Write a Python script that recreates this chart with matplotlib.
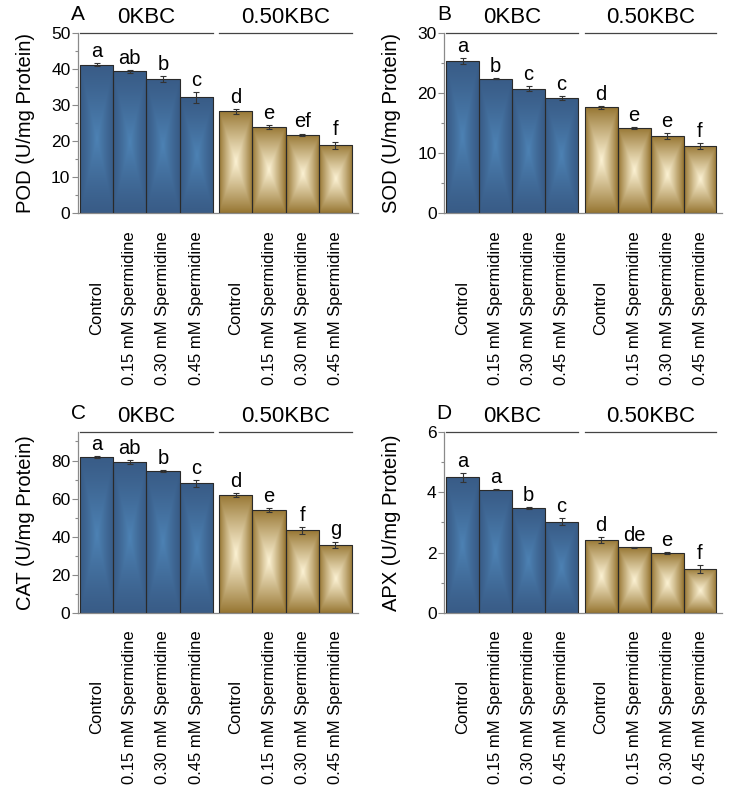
import numpy as np
import matplotlib
matplotlib.use("Agg")
import matplotlib.pyplot as plt
from matplotlib.ticker import MultipleLocator
from matplotlib.colors import to_rgb
import matplotlib.transforms as mtransforms

plt.rcParams['font.family'] = ['Liberation Sans', 'DejaVu Sans']

# ── data ──────────────────────────────────────────────────────────────────────
treatments = ["Control", "0.15 mM Spermidine", "0.30 mM Spermidine", "0.45 mM Spermidine"]
groups = ["0KBC", "0.50KBC"]

pod_mean = [41.2, 39.3, 37.2, 32.1, 28.3, 23.9, 21.7, 18.9]
pod_err  = [0.5, 0.3, 0.8, 1.4, 0.7, 0.6, 0.4, 1.0]
pod_let  = ["a", "ab", "b", "c", "d", "e", "ef", "f"]

sod_mean = [25.3, 22.4, 20.7, 19.2, 17.6, 14.2, 12.8, 11.2]
sod_err  = [0.5, 0.1, 0.4, 0.3, 0.3, 0.1, 0.5, 0.5]
sod_let  = ["a", "b", "c", "c", "d", "e", "e", "f"]

cat_mean = [81.9, 79.1, 74.6, 68.1, 62.0, 54.1, 43.3, 35.7]
cat_err  = [0.5, 1.0, 0.5, 1.8, 1.0, 1.2, 2.0, 1.8]
cat_let  = ["a", "ab", "b", "c", "d", "e", "f", "g"]

apx_mean = [4.50, 4.09, 3.48, 3.03, 2.42, 2.18, 1.98, 1.46]
apx_err  = [0.15, 0.02, 0.03, 0.12, 0.10, 0.01, 0.04, 0.14]
apx_let  = ["a", "a", "b", "c", "d", "de", "e", "f"]

# ── style ─────────────────────────────────────────────────────────────────────
BLUE_EDGE, BLUE_MID = "#395c87", "#4d82b4"
TAN_EDGE,  TAN_MID  = "#957430", "#fcf2d4"
SPINE = "#8a8a8a"
GAP = 0.2
xpos = [0, 1, 2, 3, 3 + 1 + GAP, 4 + 1 + GAP, 5 + 1 + GAP, 6 + 1 + GAP]


def fill_gradient(ax, patch, edge, mid, power):
    x0, y0 = patch.get_x(), patch.get_y()
    w, h = patch.get_width(), patch.get_height()
    u = np.linspace(-1, 1, 60)
    v = np.linspace(-1, 1, 200)
    U, V = np.meshgrid(u, v)
    d = np.maximum(np.abs(U), np.abs(V))
    t = (1 - d) ** power
    e, m = np.array(to_rgb(edge)), np.array(to_rgb(mid))
    img = e + t[..., None] * (m - e)
    im = ax.imshow(img, extent=[x0, x0 + w, y0, y0 + h], origin="lower",
                   aspect="auto", zorder=2, interpolation="bilinear")
    im.set_clip_path(patch)


def panel(ax, mean, err, letters, ylabel, ymax, major, tag):
    colors = [BLUE_EDGE] * 4 + [TAN_EDGE] * 4
    bars = ax.bar(xpos, mean, width=1.0, color=colors, edgecolor="#2a2a2a",
                  linewidth=0.8, zorder=3)
    for i, p in enumerate(bars.patches):
        p.set_facecolor("none")
        if i < 4:
            fill_gradient(ax, p, BLUE_EDGE, BLUE_MID, 1.2)
        else:
            fill_gradient(ax, p, TAN_EDGE, TAN_MID, 0.9)
    ax.errorbar(xpos, mean, yerr=err, fmt="none", ecolor="#333333",
                elinewidth=0.8, capsize=2, capthick=0.8, zorder=4)
    for x, m, e, l in zip(xpos, mean, err, letters):
        ax.annotate(l, (x, m + e), xytext=(0, 1.5), textcoords="offset points",
                    ha="center", va="bottom", fontsize=14.5, zorder=5)

    ax.set_xlim(-0.56, xpos[-1] + 0.68)
    ax.set_ylim(0, ymax)
    ax.yaxis.set_major_locator(MultipleLocator(major))
    ax.yaxis.set_minor_locator(MultipleLocator(major / 2))
    ax.set_xticks(xpos)
    ax.set_xticklabels(treatments * 2, rotation=90, va="center", ha="center",
                       fontsize=12)
    ax.tick_params(axis="x", length=0, pad=68)
    ax.tick_params(axis="y", which="major", length=4, width=0.8, color=SPINE,
                   labelsize=12.5, pad=1.5)
    ax.tick_params(axis="y", which="minor", length=2.5, width=0.8, color=SPINE)
    for s in ("top", "right"):
        ax.spines[s].set_visible(False)
    for s in ("left", "bottom"):
        ax.spines[s].set_color(SPINE)
        ax.spines[s].set_linewidth(0.9)
    ax.set_ylabel(ylabel, fontsize=14.5)
    ax.yaxis.set_label_coords(-0.155, 0.5)

    trans = mtransforms.blended_transform_factory(ax.transData, ax.transAxes)
    spans = [(-0.5, 3.5), (xpos[4] - 0.5, xpos[7] + 0.5)]
    for (a, b), g in zip(spans, groups):
        ax.plot([a, b], [1, 1], color="#444444", lw=0.9, transform=trans,
                clip_on=False)
        ax.text((a + b) / 2, 1.085, g, transform=trans, ha="center",
                va="center", fontsize=16)
    ax.text(0.0, 1.1, tag, transform=ax.transAxes, ha="center", va="center",
            fontsize=15)


fig = plt.figure(figsize=(7.44, 8.02), dpi=100)
ax_a = fig.add_axes([0.105, 0.734, 0.376, 0.225])
ax_b = fig.add_axes([0.597, 0.734, 0.374, 0.225])
ax_c = fig.add_axes([0.105, 0.2357, 0.376, 0.2257])
ax_d = fig.add_axes([0.597, 0.2357, 0.374, 0.2257])

panel(ax_a, pod_mean, pod_err, pod_let, "POD (U/mg Protein)", 50, 10, "A")
panel(ax_b, sod_mean, sod_err, sod_let, "SOD (U/mg Protein)", 30, 10, "B")
panel(ax_c, cat_mean, cat_err, cat_let, "CAT (U/mg Protein)", 95, 20, "C")
panel(ax_d, apx_mean, apx_err, apx_let, "APX (U/mg Protein)", 6, 2, "D")

fig.savefig("out.png", dpi=100)
